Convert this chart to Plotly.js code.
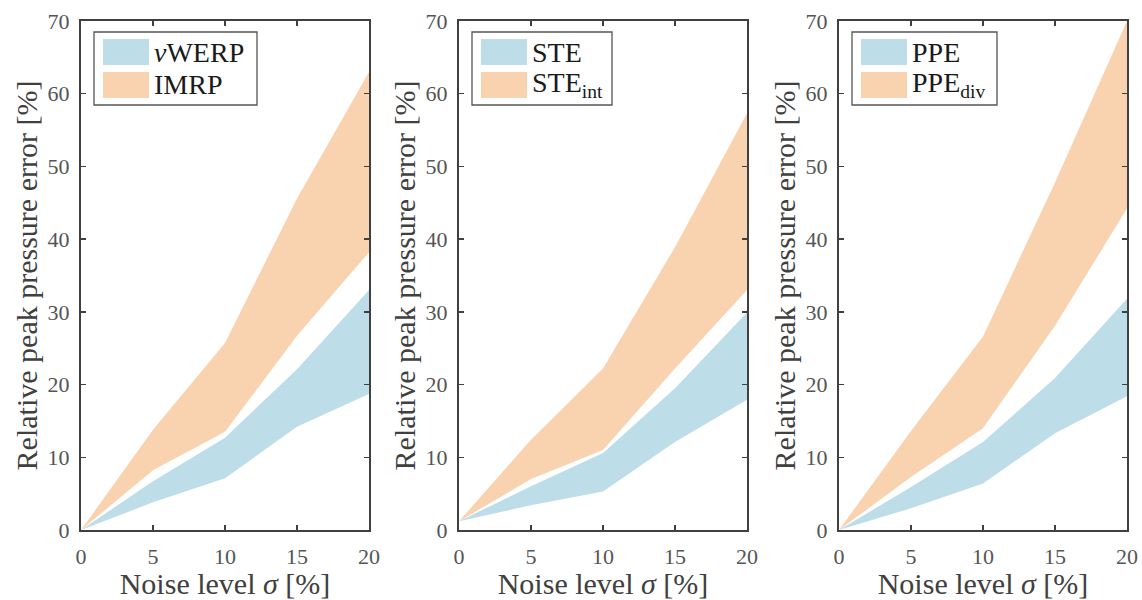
<!DOCTYPE html>
<html>
<head>
<meta charset="utf-8">
<script src="https://cdn.plot.ly/plotly-3.0.1.min.js"></script>
<style>html,body{margin:0;padding:0;background:#fff;}#chart{width:1142px;height:600px;}</style>
</head>
<body>
<div id="chart"></div>
<script>
const noise = [0, 5, 10, 15, 20];
const xTicks = [0, 5, 10, 15, 20];
const yTicks = [0, 10, 20, 30, 40, 50, 60, 70];

const vwerpLow  = [0, 3.8, 7.1, 14.2, 18.7];
const vwerpHigh = [0, 6.7, 12.7, 22.1, 33.0];
const imrpLow   = [0, 8.2, 13.5, 26.7, 38.2];
const imrpHigh  = [0, 13.8, 25.7, 45.6, 63.0];

const steLow     = [1.2, 3.4, 5.3, 12.1, 17.9];
const steHigh    = [1.2, 6.0, 10.6, 19.5, 29.9];
const steIntLow  = [1.2, 7.0, 11.0, 22.2, 33.0];
const steIntHigh = [1.2, 12.4, 22.2, 38.9, 57.3];

const ppeLow     = [0, 3.0, 6.4, 13.3, 18.4];
const ppeHigh    = [0, 5.9, 12.1, 20.9, 31.8];
const ppeDivLow  = [0, 7.3, 14.0, 28.1, 44.2];
const ppeDivHigh = [0, 13.6, 26.6, 47.8, 70.0];

const panelNames = [
  ['<i>v</i>WERP', 'IMRP'],
  ['STE', 'STE<sub>int</sub>'],
  ['PPE', 'PPE<sub>div</sub>']
];

const BLUE = '#bddde9';
const ORANGE = '#f9d3b0';
const FONT = 'Liberation Serif, Times New Roman, serif';
const W = 1142, H = 600;

function band(low, high, color, xa, ya, name) {
  return {
    x: noise.concat(noise.slice().reverse()),
    y: low.concat(high.slice().reverse()),
    xaxis: xa, yaxis: ya,
    type: 'scatter', mode: 'lines', fill: 'toself',
    fillcolor: color, line: {width: 0, color: color},
    name: name, showlegend: false, hoverinfo: 'skip'
  };
}

const data = [
  band(imrpLow, imrpHigh, ORANGE, 'x', 'y', 'IMRP'),
  band(vwerpLow, vwerpHigh, BLUE, 'x', 'y', 'vWERP'),
  band(steIntLow, steIntHigh, ORANGE, 'x2', 'y2', 'STE_int'),
  band(steLow, steHigh, BLUE, 'x2', 'y2', 'STE'),
  band(ppeDivLow, ppeDivHigh, ORANGE, 'x3', 'y3', 'PPE_div'),
  band(ppeLow, ppeHigh, BLUE, 'x3', 'y3', 'PPE')
];

// panel pixel geometry
const panels = [[81, 369], [459, 747], [839, 1127]];
const plotTop = 21, plotBottom = 530;
const legendW = [163, 140, 145];

function xaxisDef(px) {
  return {
    domain: [px[0] / W, px[1] / W],
    range: [0, 20], tickvals: xTicks, ticktext: xTicks.map(String),
    showline: true, linecolor: '#404040', linewidth: 2, mirror: 'ticks',
    ticks: 'inside', ticklen: 5, tickcolor: '#404040', tickwidth: 1.5,
    showgrid: false, zeroline: false, fixedrange: true,
    ticklabelstandoff: 6,
    tickfont: {family: FONT, size: 22, color: '#555555'},
    title: {text: 'Noise level <i>σ</i> [%]', font: {family: FONT, size: 30, color: '#404040'}, standoff: 3}
  };
}
function yaxisDef(xa) {
  return {
    domain: [1 - plotBottom / H, 1 - plotTop / H], anchor: xa,
    range: [0, 70], tickvals: yTicks, ticktext: yTicks.map(String),
    showline: true, linecolor: '#404040', linewidth: 2, mirror: 'ticks',
    ticks: 'inside', ticklen: 5, tickcolor: '#404040', tickwidth: 1.5,
    showgrid: false, zeroline: false, fixedrange: true,
    ticklabelstandoff: 5,
    tickfont: {family: FONT, size: 22, color: '#555555'},
    title: {text: 'Relative peak pressure error [%]', font: {family: FONT, size: 30, color: '#404040'}, standoff: 1}
  };
}

const shapes = [], annotations = [];
panels.forEach((px, i) => {
  const lx = px[0] + 13, ly = 32;
  shapes.push({type: 'rect', xref: 'paper', yref: 'paper',
    x0: lx / W, x1: (lx + legendW[i]) / W, y0: 1 - ly / H, y1: 1 - (ly + 73) / H,
    line: {color: '#555555', width: 1.3}, fillcolor: '#ffffff', layer: 'above'});
  const colors = [BLUE, ORANGE];
  [0, 1].forEach(k => {
    const sy = 39 + k * 33;
    shapes.push({type: 'rect', xref: 'paper', yref: 'paper',
      x0: (lx + 9) / W, x1: (lx + 55) / W, y0: 1 - sy / H, y1: 1 - (sy + 26) / H,
      line: {width: 0}, fillcolor: colors[k], layer: 'above'});
    annotations.push({xref: 'paper', yref: 'paper', x: (lx + 58) / W, y: 1 - (sy + 13) / H,
      xanchor: 'left', yanchor: 'middle', showarrow: false,
      text: panelNames[i][k], font: {family: FONT, size: 28, color: '#1a1a1a'}});
  });
});

const layout = {
  width: W, height: H,
  margin: {l: 0, r: 0, t: 0, b: 0},
  paper_bgcolor: '#ffffff', plot_bgcolor: '#ffffff',
  showlegend: false,
  xaxis: Object.assign(xaxisDef(panels[0]), {anchor: 'y'}), yaxis: yaxisDef('x'),
  xaxis2: Object.assign(xaxisDef(panels[1]), {anchor: 'y2'}), yaxis2: yaxisDef('x2'),
  xaxis3: Object.assign(xaxisDef(panels[2]), {anchor: 'y3'}), yaxis3: yaxisDef('x3'),
  shapes: shapes, annotations: annotations
};

Plotly.newPlot('chart', data, layout, {displayModeBar: false, staticPlot: true});
</script>
</body>
</html>
